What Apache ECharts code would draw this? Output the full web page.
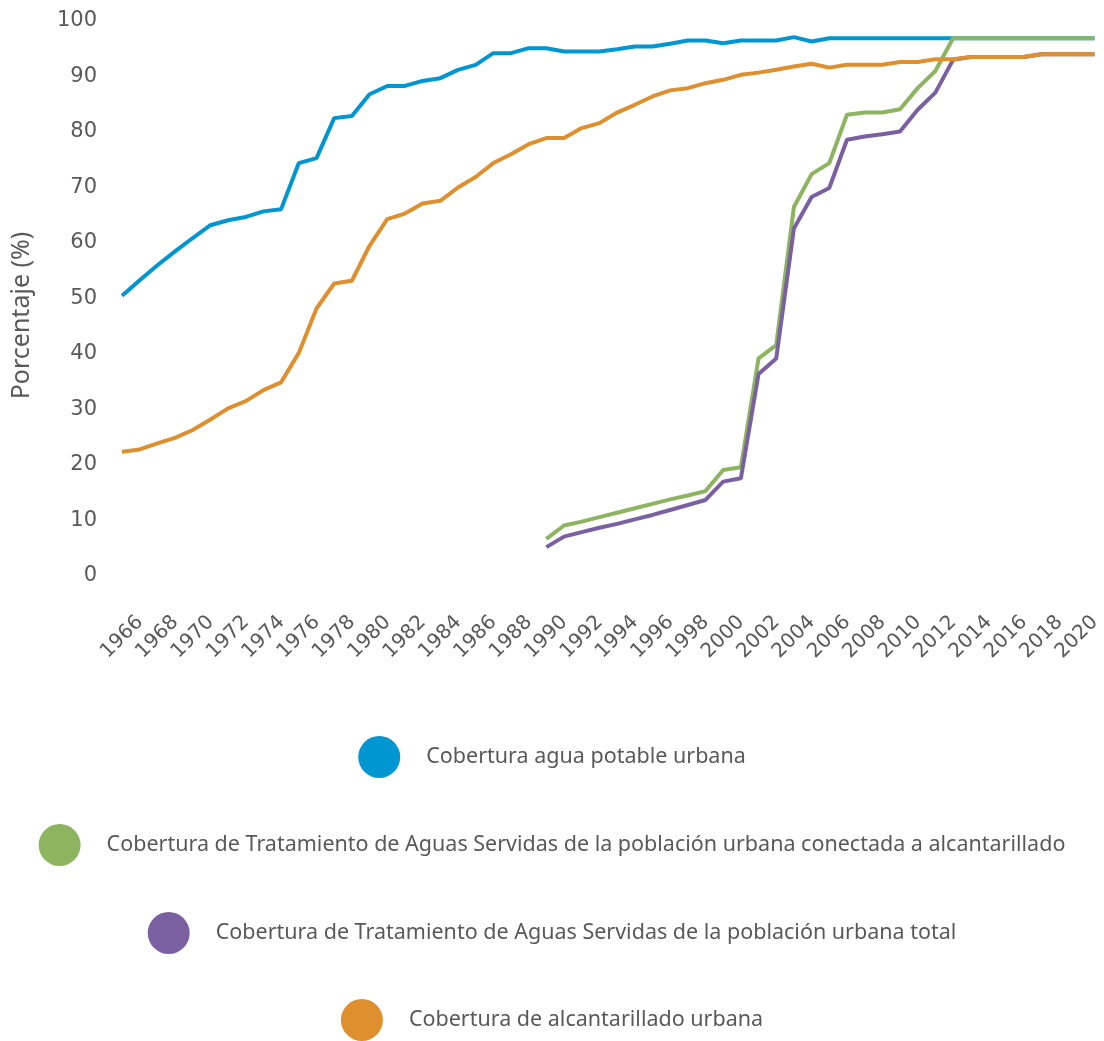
<!DOCTYPE html>
<html>
<head>
<meta charset="utf-8">
<script src="https://cdn.jsdelivr.net/npm/echarts@6/dist/echarts.min.js"></script>
<style>
  html, body { margin: 0; padding: 0; background: #fff; }
  #chart { width: 1104px; height: 1041px; }
</style>
</head>
<body>
<div id="chart"></div>
<script>
var chartDom = document.getElementById('chart');
var myChart = echarts.init(chartDom);

// años (eje x)
var years = ['1966','1967','1968','1969','1970','1971','1972','1973','1974','1975',
  '1976','1977','1978','1979','1980','1981','1982','1983','1984','1985',
  '1986','1987','1988','1989','1990','1991','1992','1993','1994','1995',
  '1996','1997','1998','1999','2000','2001','2002','2003','2004','2005',
  '2006','2007','2008','2009','2010','2011','2012','2013','2014','2015',
  '2016','2017','2018','2019','2020','2021'];

var names = [
  'Cobertura agua potable urbana',
  'Cobertura de Tratamiento de Aguas Servidas de la población urbana conectada a alcantarillado',
  'Cobertura de Tratamiento de Aguas Servidas de la población urbana total',
  'Cobertura de alcantarillado urbana'
];
var colors = ['#0096d1', '#8db45e', '#7a60a1', '#de8f2e'];

// agua potable
var agua = [50.5, 53.3, 56.0, 58.5, 60.9, 63.2, 64.1, 64.7, 65.7, 66.1,
  74.4, 75.3, 82.5, 82.9, 86.8, 88.3, 88.3, 89.2, 89.7, 91.2,
  92.1, 94.2, 94.2, 95.1, 95.1, 94.5, 94.5, 94.5, 94.9, 95.4,
  95.4, 95.9, 96.5, 96.5, 96.0, 96.5, 96.5, 96.5, 97.1, 96.3,
  96.9, 96.9, 96.9, 96.9, 96.9, 96.9, 96.9, 96.9, 96.9, 96.9,
  96.9, 96.9, 96.9, 96.9, 96.9, 96.9];

// tratamiento, poblacion conectada
var tratConectada = [null, null, null, null, null, null, null, null, null, null,
  null, null, null, null, null, null, null, null, null, null,
  null, null, null, null, 6.7, 9.1, 9.8, 10.6, 11.4, 12.2,
  13.0, 13.8, 14.5, 15.3, 19.1, 19.6, 39.2, 41.6, 66.5, 72.4,
  74.4, 83.1, 83.5, 83.5, 84.1, 87.9, 91.0, 96.9, 96.9, 96.9,
  96.9, 96.9, 96.9, 96.9, 96.9, 96.9];

// tratamiento, poblacion total
var tratTotal = [null, null, null, null, null, null, null, null, null, null,
  null, null, null, null, null, null, null, null, null, null,
  null, null, null, null, 5.2, 7.1, 7.9, 8.7, 9.4, 10.2,
  11.0, 11.9, 12.8, 13.7, 17.0, 17.6, 36.4, 39.2, 62.6, 68.3,
  69.9, 78.6, 79.2, 79.6, 80.1, 84.0, 87.1, 93.0, 93.5, 93.5,
  93.5, 93.5, 94.0, 94.0, 94.0, 94.0];

// alcantarillado
var alcantarillado = [22.4, 22.8, 23.9, 24.9, 26.3, 28.2, 30.2, 31.5, 33.5, 34.9,
  40.2, 48.2, 52.7, 53.2, 59.5, 64.3, 65.3, 67.1, 67.6, 70.0,
  71.9, 74.4, 76.0, 77.8, 78.9, 78.9, 80.7, 81.6, 83.5, 84.9,
  86.4, 87.5, 87.9, 88.8, 89.4, 90.3, 90.7, 91.2, 91.8, 92.3,
  91.6, 92.1, 92.1, 92.1, 92.6, 92.6, 93.1, 93.1, 93.5, 93.5,
  93.5, 93.5, 94.0, 94.0, 94.0, 94.0];

var seriesData = [agua, tratConectada, tratTotal, alcantarillado];
var legendTop = [731, 819, 907, 994];

var legends = [];
var series = [];
for (var i = 0; i < names.length; i++) {
  legends.push({
    data: [names[i]],
    left: 'center',
    top: legendTop[i],
    icon: 'circle',
    itemWidth: 42,
    itemHeight: 42,
    selectedMode: false,
    textStyle: {
      fontFamily: 'Noto Sans',
      fontSize: 21.5,
      color: '#595959',
      padding: [0, 0, 0, 21]
    }
  });
  series.push({
    name: names[i],
    type: 'line',
    data: seriesData[i],
    showSymbol: false,
    symbol: 'none',
    color: colors[i],
    lineStyle: { width: 4, color: colors[i] }
  });
}

var option = {
  animation: false,
  backgroundColor: '#fff',
  grid: { left: 122, right: 7, top: 21, bottom: 465 },
  legend: legends,
  xAxis: {
    type: 'category',
    data: years,
    boundaryGap: false,
    axisLine: { show: false },
    axisTick: { show: false },
    axisLabel: {
      interval: 1,
      rotate: 45,
      align: 'center',
      verticalAlign: 'middle',
      margin: 61,
      fontFamily: 'DejaVu Sans',
      fontSize: 20,
      color: '#595959'
    }
  },
  yAxis: {
    type: 'value',
    min: 0,
    max: 100,
    interval: 10,
    name: 'Porcentaje (%)',
    nameLocation: 'middle',
    nameGap: 88,
    nameTextStyle: {
      fontFamily: 'Noto Sans',
      fontSize: 25,
      color: '#595959',
      padding: [0, 34, 0, 0]
    },
    axisLine: { show: false },
    axisTick: { show: false },
    splitLine: { show: false },
    axisLabel: {
      margin: 25,
      fontFamily: 'DejaVu Sans',
      fontSize: 21,
      color: '#595959'
    }
  },
  series: series
};
myChart.setOption(option);
</script>
</body>
</html>
